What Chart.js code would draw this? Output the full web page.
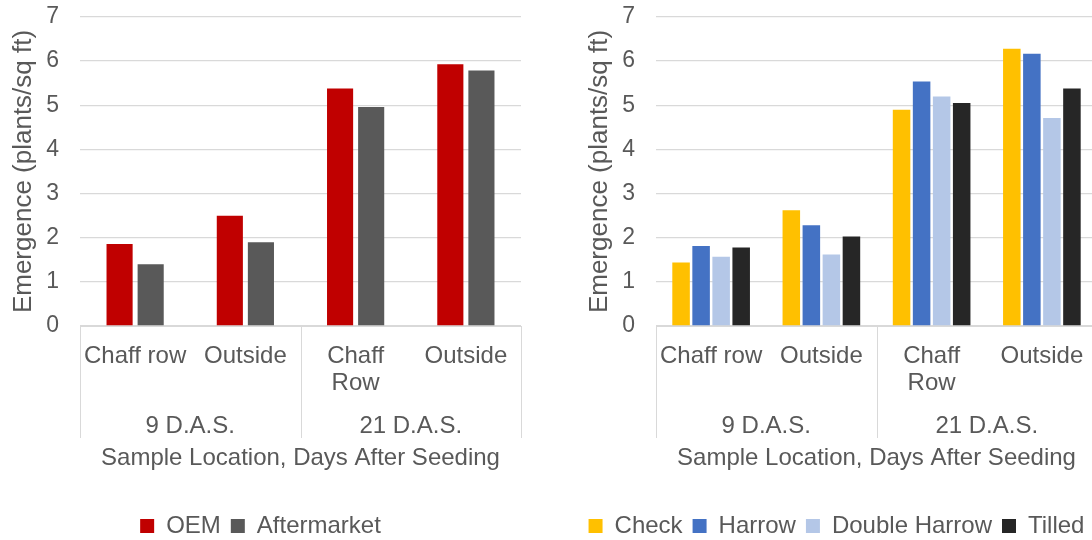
<!DOCTYPE html>
<html>
<head>
<meta charset="utf-8">
<script src="https://cdn.jsdelivr.net/npm/chart.js@4.4.1/dist/chart.umd.min.js"></script>
<style>
  body { margin: 0; width: 1092px; height: 540px; overflow: hidden; background: #fff; }
  canvas { position: absolute; top: 0; }
</style>
</head>
<body>
<canvas id="left" width="531" height="548" style="left:0"></canvas>
<canvas id="right" width="531" height="548" style="left:576px"></canvas>
<script>
// categories (two level axis)
const locations = ["Chaff row", "Outside", ["Chaff", "Row"], "Outside"];
const groups = ["9 D.A.S.", "21 D.A.S."];
const groupSize = 2;

// left chart: seeder type
const oem = [1.86, 2.50, 5.38, 5.93];
const aftermarket = [1.40, 1.90, 4.96, 5.79];

// right chart: tillage
const check = [1.44, 2.62, 4.90, 6.28];
const harrow = [1.81, 2.28, 5.54, 6.17];
const doubleHarrow = [1.57, 1.62, 5.20, 4.71];
const tilled = [1.78, 2.03, 5.05, 5.38];

const yTitle = "Emergence (plants/sq ft)";
const xTitle = "Sample Location, Days After Seeding";

const textColor = "#595959";
const gridColor = "#d9d9d9";
const family = '"Liberation Sans", Arial, sans-serif';

const groupLabels = {
  id: "groupLabels",
  afterDraw(chart) {
    let xs = chart.scales.x;
    let ctx = chart.ctx;
    let step = xs.width / locations.length;
    ctx.save();
    ctx.strokeStyle = gridColor;
    ctx.lineWidth = 1;
    for (let k = 0; k <= groups.length; k++) {
      let x = Math.round(xs.left + k * groupSize * step) + 0.5;
      ctx.beginPath();
      ctx.moveTo(x, xs.top);
      ctx.lineTo(x, xs.top + 112);
      ctx.stroke();
    }
    ctx.fillStyle = textColor;
    ctx.font = "24px " + family;
    ctx.textAlign = "center";
    ctx.textBaseline = "middle";
    groups.forEach((g, i) => {
      ctx.fillText(g, xs.left + (i + 0.5) * groupSize * step, xs.top + 100);
    });
    ctx.restore();
  }
};

function makeChart(id, series, catPct, barPct) {
  return new Chart(document.getElementById(id), {
    type: "bar",
    data: {
      labels: locations,
      datasets: series.map((s) => ({
        label: s.label,
        data: s.data,
        backgroundColor: s.color,
        borderWidth: 0,
        categoryPercentage: catPct,
        barPercentage: barPct,
      })),
    },
    options: {
      responsive: false,
      animation: false,
      layout: { padding: { top: 17, right: 10, left: 0, bottom: 0 } },
      plugins: {
        tooltip: { enabled: false },
        legend: {
          position: "bottom",
          labels: {
            boxWidth: 14,
            boxHeight: 14,
            padding: 10,
            color: textColor,
            font: { family: family, size: 24 },
          },
        },
      },
      scales: {
        x: {
          grid: { display: false },
          border: { color: gridColor },
          ticks: {
            color: textColor,
            font: { family: family, size: 24, lineHeight: 1.125 },
            padding: 9,
            maxRotation: 0,
            autoSkip: false,
          },
          title: {
            display: true,
            text: xTitle,
            color: textColor,
            font: { family: family, size: 24 },
            padding: { top: 0, bottom: 31 },
          },
          afterFit: (s) => { s.height = s.chart.height - 326 - s.chart.legend.height; },
        },
        y: {
          min: 0,
          max: 7,
          ticks: {
            stepSize: 1,
            padding: 0,
            color: textColor,
            font: { family: family, size: 23 },
          },
          grid: { color: gridColor, lineWidth: 1.3, tickLength: 21, tickColor: "rgba(0,0,0,0)" },
          border: { display: false },
          title: {
            display: true,
            text: yTitle,
            color: textColor,
            font: { family: family, size: 26 },
            padding: { top: 8, bottom: 0 },
          },
          afterFit: (s) => { s.width = 80; },
        },
      },
    },
    plugins: [groupLabels],
  });
}

makeChart("left", [
  { label: "OEM", data: oem, color: "#c00000" },
  { label: "Aftermarket", data: aftermarket, color: "#595959" },
], 0.564, 0.84);

makeChart("right", [
  { label: "Check", data: check, color: "#ffc000" },
  { label: "Harrow", data: harrow, color: "#4472c4" },
  { label: "Double Harrow", data: doubleHarrow, color: "#b4c7e7" },
  { label: "Tilled", data: tilled, color: "#262626" },
], 0.727, 0.875);
</script>
</body>
</html>
